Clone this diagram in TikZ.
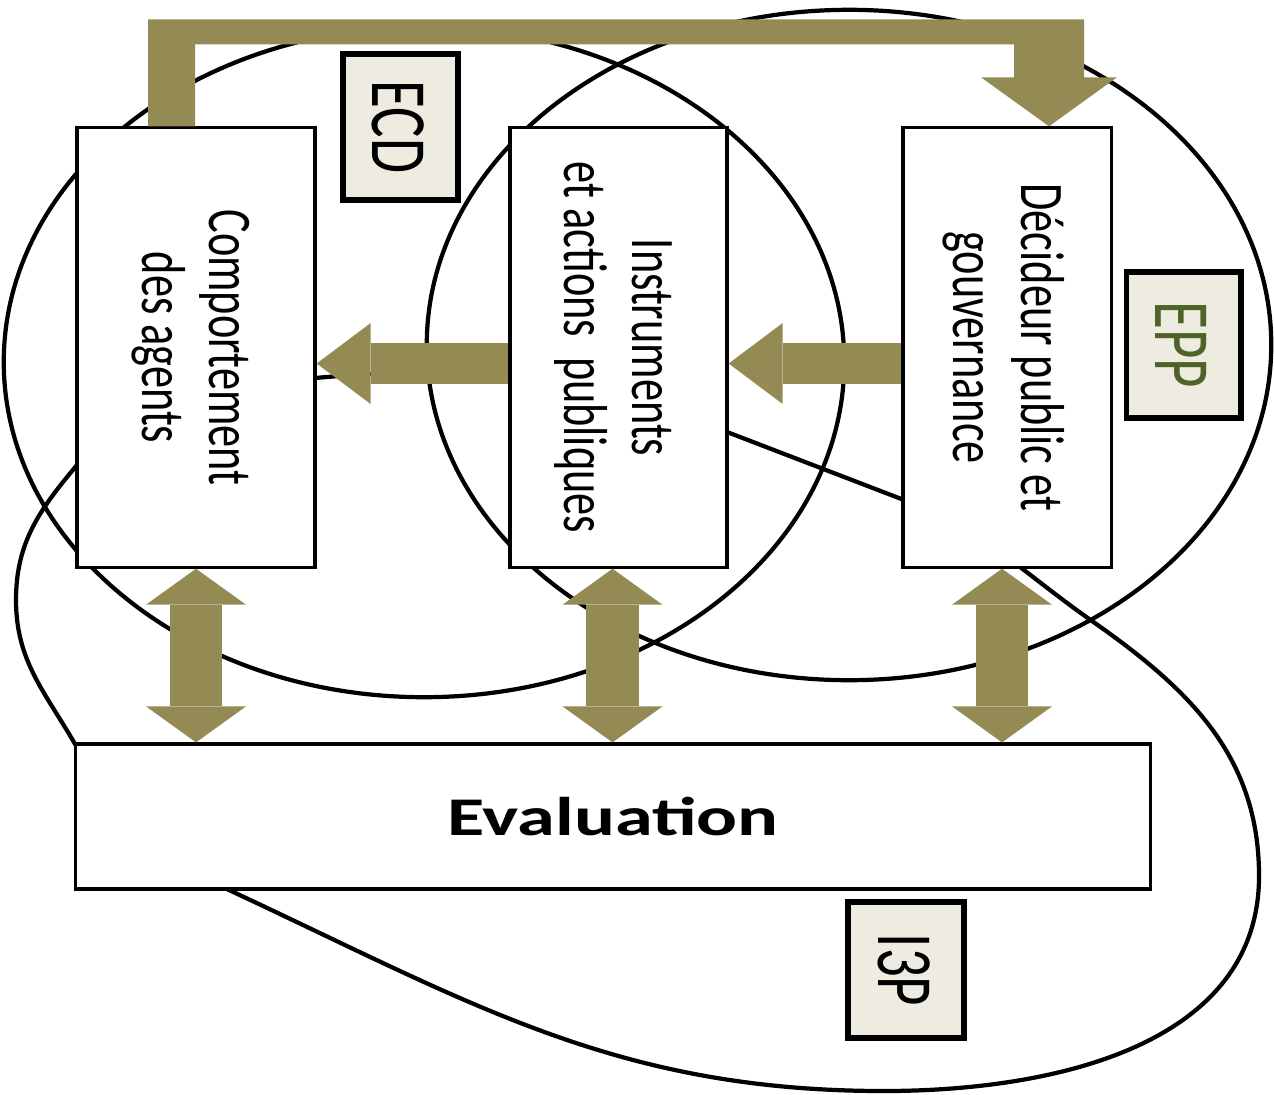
\documentclass[tikz,border=0pt]{standalone}
\usepackage{fontspec}
\setmainfont{Carlito}
\usepackage{graphicx}
\usepackage{tikz}
\usetikzlibrary{arrows.meta, calc}

\definecolor{kaki}{HTML}{948A54}
\definecolor{beige}{HTML}{EEECE1}
\definecolor{vertfonce}{HTML}{4F6228}

% texte tourné (lecture de haut en bas), étiré comme dans la figure
\newcommand{\textevertical}[2][1.3pt]{\rotatebox{-90}{\scalebox{1}[1.4]{\raisebox{-#1}[\height][\depth]{\begin{tabular}{@{}c@{}}#2\end{tabular}}}}}

\begin{document}
\begin{tikzpicture}[
		x=0.01cm, y=-0.01cm, % une unité = un pixel, y vers le bas
		% --- Styles ---
		boite/.style={
			draw,
			line width=0.9pt,
			fill=white,
			inner sep=0pt,
			minimum height=4.39cm,
			font=\fontsize{12.6}{13.8}\selectfont
		},
		etiquette/.style={
			draw,
			line width=1.7pt,
			fill=beige,
			inner sep=0pt,
			minimum width=1.14cm,
			minimum height=1.45cm,
			font=\fontsize{16.2}{18}\selectfont
		},
		contour/.style={line width=1.2pt},
		fleche_h/.style={
			draw=kaki,
			line width=0.4cm,
			-{Triangle[width=0.81cm, length=0.54cm, line width'=0pt]}
		},
		fleche_v/.style={
			draw=kaki,
			line width=0.52cm,
			{Triangle[width=1cm, length=0.36cm, line width'=0pt]}-{Triangle[width=1cm, length=0.36cm, line width'=0pt]}
		}
		]
		\useasboundingbox (0,0) rectangle (1274,1094);
		
		% 1. Ensembles : ECD, EPP et I3P
		\draw[contour] (424,362) ellipse [x radius=4.2cm, y radius=3.35cm];
		\draw[contour] (849,345) ellipse [x radius=4.22cm, y radius=3.35cm];
		\draw[contour] (315,378) to[out=5, in=160] (727,432) -- (904,500)
		to[out=-21, in=145] (1092,621) to[out=-35, in=90] (1259,876)
		to[out=-90, in=0] (884,1091) to[out=180, in=-25] (229,890)
		to[out=155, in=-50] (75,744) to[out=120, in=-90] (16,600)
		to[out=90, in=-130] (77,465) to[out=50, in=185] cycle;
		
		% 2. Boites
		\node[boite, minimum width=2.38cm] (comp) at (196,347.5) {\textevertical{Comportement\\des agents}};
		\node[boite, minimum width=2.17cm] (instr) at (618.5,347.5) {\textevertical{Instruments\\et actions~~publiques}};
		\node[boite, minimum width=2.08cm] (decid) at (1007,347.5) {\textevertical{Décideur public et\\gouvernance}};
		\node[boite, minimum width=10.74cm, minimum height=1.45cm,
			font=\fontsize{15.5}{18}\selectfont\bfseries] (eval) at (613,816.5) {\scalebox{1.4}[1]{Evaluation}};
		
		% 3. Flèches horizontales
		\draw[fleche_h] ($(instr.west)+(0,16)$) -- ($(comp.east)+(0,16)$);
		\draw[fleche_h] ($(decid.west)+(0,16)$) -- ($(instr.east)+(0,16)$);
		
		% 4. Flèches doubles vers l'évaluation
		\draw[fleche_v] (comp.south) -- (comp.south |- eval.north);
		\draw[fleche_v] ($(instr.south)+(-6,0)$) -- ($(instr.south |- eval.north)+(-6,0)$);
		\draw[fleche_v] ($(decid.south)+(-5,0)$) -- ($(decid.south |- eval.north)+(-5,0)$);
		
		% 5. Retour du comportement vers le décideur
		\fill[kaki] ($(comp.north)+(-48,0)$) -- ++(0,-107) -- ++(936,0) -- ++(0,58)
		-- ++(33,0) -- ($(decid.north)+(42,0)$) -- ++(-68,-49) -- ++(33,0)
		-- ++(0,-33) -- ++(-819,0) -- ++(0,82) -- cycle;
		
		% 6. Etiquettes
		\node[etiquette] (ecd) at (400.5,127) {\textevertical[2pt]{ECD}};
		\node[etiquette, text=vertfonce] (epp) at (1183.5,345) {\textevertical[2pt]{EPP}};
		\node[etiquette, minimum width=1.16cm, minimum height=1.36cm] (i3p) at (906,970) {\textevertical[2pt]{I3P}};
		
	\end{tikzpicture}
\end{document}
